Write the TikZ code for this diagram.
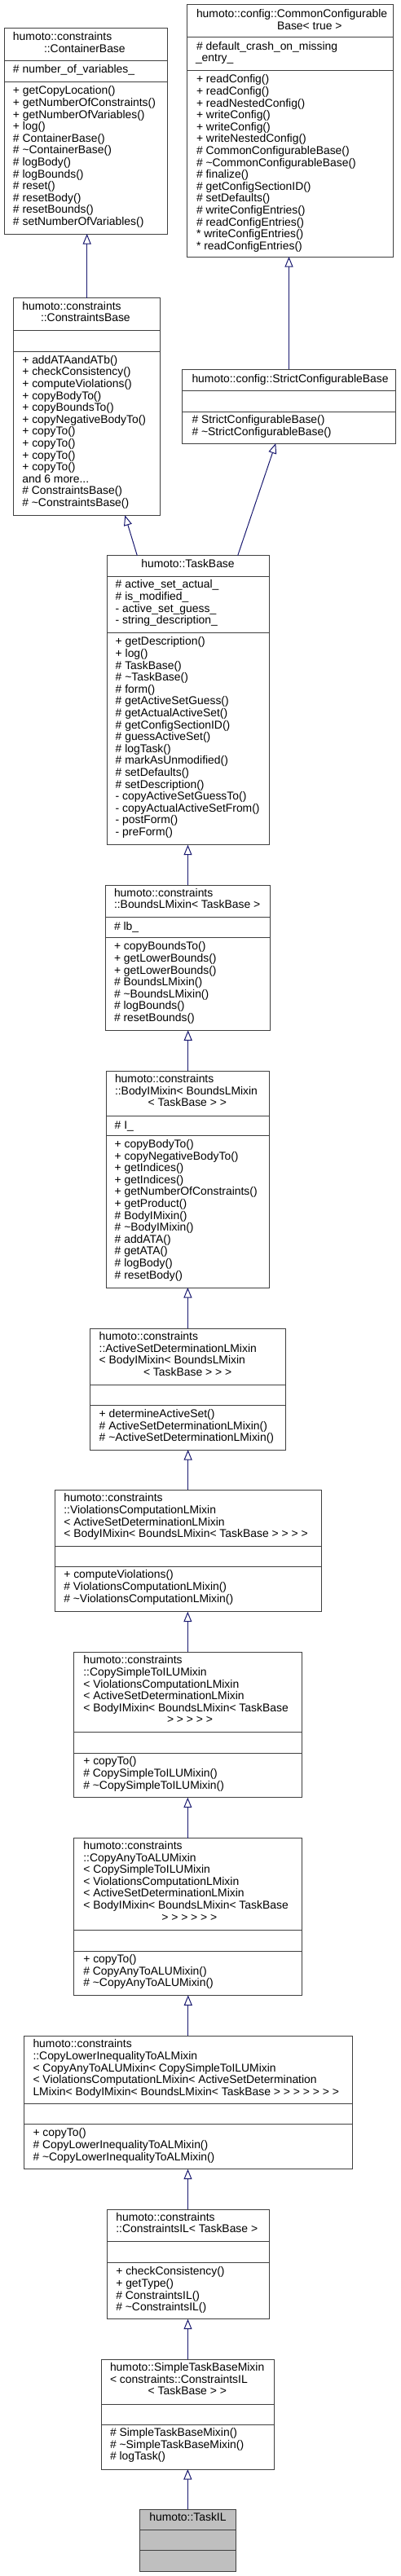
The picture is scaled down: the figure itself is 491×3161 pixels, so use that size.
\documentclass[tikz,border=0pt]{standalone}
\usepackage{fontspec}
\setmainfont{Liberation Sans}
\usetikzlibrary{arrows.meta,calc}
\definecolor{edgeblue}{HTML}{191970}
\definecolor{boxgray}{HTML}{404040}
\definecolor{taskgray}{HTML}{BFBFBF}
\tikzset{
 box/.style={draw=boxgray, line width=1pt, inner sep=0pt, outer sep=0pt, rectangle},
 sepline/.style={draw=boxgray, line width=1pt},
 txt/.style={anchor=west, inner sep=0pt, outer sep=0pt, text height=10pt, text depth=3pt, font=\fontsize{13.9}{14.6}\selectfont},
 inh/.style={draw=edgeblue, line width=1pt, -{Triangle[length=12.5pt, width=10pt, fill=white]}}
}
\newcommand\mydots{...}
\newcommand\umlbox[6][white]{\node[box, fill=#1, minimum width={(#5)-(#3)}, minimum height={(#6)-(#4)}] (#2) at ({((#3)+(#5))/2},{((#4)+(#6))/2}) {};}
\newcommand\sepat[3]{\draw[sepline] (#1,#3) -- (#2,#3);}
\newcommand\tlines[4]{\foreach \myitem [count=\myidx from 0] in {#4} {\node[txt] (#1-\myidx) at (#2,{#3+\myidx*14.6}) {\myitem};}}
\begin{document}
\begin{tikzpicture}[x=1pt,y=-1pt]
\useasboundingbox[fill=white] (0,0) rectangle (491,3161);

% ContainerBase
\umlbox{CB}{5}{35}{205}{287}
\sepat{5}{205}{75}\sepat{5}{205}{100}
\tlines{cbt}{16}{46}{humoto::constraints}
\tlines{cbu}{54}{60.6}{::ContainerBase}
\tlines{cba}{16}{86}{\# number\_of\_variables\_}
\tlines{cbm}{16}{112.3}{+ getCopyLocation(), + getNumberOfConstraints(), + getNumberOfVariables(), + log(), \# ContainerBase(), \# \textasciitilde ContainerBase(), \# logBody(), \# logBounds(), \# reset(), \# resetBody(), \# resetBounds(), \# setNumberOfVariables()}

% CommonConfigurableBase
\umlbox{CCB}{229}{6}{482}{315}
\sepat{229}{482}{46}\sepat{229}{482}{86}
\tlines{ccbt}{241}{18.3}{humoto::config::CommonConfigurable}
\tlines{ccbu}{340}{32.9}{Base< true >}
\tlines{ccba}{241}{57.7}{\# default\_crash\_on\_missing}
\tlines{ccbb}{240}{72.3}{\_entry\_}
\tlines{ccbm}{241}{98.3}{+ readConfig(), + readConfig(), + readNestedConfig(), + writeConfig(), + writeConfig(), + writeNestedConfig(), \# CommonConfigurableBase(), \# \textasciitilde CommonConfigurableBase(), \# finalize(), \# getConfigSectionID(), \# setDefaults(), \# writeConfigEntries(), \# readConfigEntries(), * writeConfigEntries(), * readConfigEntries()}

% ConstraintsBase
\umlbox{CSB}{16.7}{365.7}{196.7}{632.3}
\sepat{16.7}{196.7}{405.7}\sepat{16.7}{196.7}{431}
\tlines{csbt}{27.3}{376.7}{humoto::constraints}
\tlines{csbu}{50}{391.3}{::ConstraintsBase}
\tlines{csbm}{27.3}{442.7}{+ addATAandATb(), + checkConsistency(), + computeViolations(), + copyBodyTo(), + copyBoundsTo(), + copyNegativeBodyTo(), + copyTo(), + copyTo(), + copyTo(), + copyTo(), and 6 more\mydots, \# ConstraintsBase(), \# \textasciitilde ConstraintsBase()}

% StrictConfigurableBase
\umlbox{SCB}{223.3}{453.3}{485.7}{544}
\sepat{223.3}{485.7}{479}\sepat{223.3}{485.7}{505}
\tlines{scbt}{235.5}{466}{humoto::config::StrictConfigurableBase}
\tlines{scbm}{235.5}{516}{\# StrictConfigurableBase(), \# \textasciitilde StrictConfigurableBase()}

% TaskBase
\umlbox{TB}{131}{681.7}{330}{1036.7}
\sepat{131}{330}{707.3}\sepat{131}{330}{776.7}
\tlines{tbt}{173.3}{693.3}{humoto::TaskBase}
\tlines{tba}{141.7}{718.3}{\# active\_set\_actual\_, \# is\_modified\_, - active\_set\_guess\_, - string\_description\_}
\tlines{tbm}{141.7}{788.3}{+ getDescription(), + log(), \# TaskBase(), \# \textasciitilde TaskBase(), \# form(), \# getActiveSetGuess(), \# getActualActiveSet(), \# getConfigSectionID(), \# guessActiveSet(), \# logTask(), \# markAsUnmodified(), \# setDefaults(), \# setDescription(), - copyActiveSetGuessTo(), - copyActualActiveSetFrom(), - postForm(), - preForm()}

% BoundsLMixin
\umlbox{BLM}{129.3}{1086}{331.7}{1264.3}
\sepat{129.3}{331.7}{1125.7}\sepat{129.3}{331.7}{1150.7}
\tlines{blmt}{140}{1096.7}{humoto::constraints, ::BoundsLMixin< TaskBase >}
\tlines{blma}{140}{1138.3}{\# lb\_}
\tlines{blmm}{140}{1162.3}{+ copyBoundsTo(), + getLowerBounds(), + getLowerBounds(), \# BoundsLMixin(), \# \textasciitilde BoundsLMixin(), \# logBounds(), \# resetBounds()}

% BodyIMixin
\umlbox{BIM}{130.7}{1314}{330.7}{1580}
\sepat{130.7}{330.7}{1369}\sepat{130.7}{330.7}{1393.3}
\tlines{bimt}{141}{1325}{humoto::constraints, ::BodyIMixin< BoundsLMixin}
\tlines{bimu}{181.7}{1354.2}{< TaskBase > >}
\tlines{bima}{140.7}{1381.7}{\# I\_}
\tlines{bimm}{140.7}{1405}{+ copyBodyTo(), + copyNegativeBodyTo(), + getIndices(), + getIndices(), + getNumberOfConstraints(), + getProduct(), \# BodyIMixin(), \# \textasciitilde BodyIMixin(), \# addATA(), \# getATA(), \# logBody(), \# resetBody()}

% ActiveSetDeterminationLMixin
\umlbox{ASD}{110.5}{1630}{350.3}{1779}
\sepat{110.5}{350.3}{1699}\sepat{110.5}{350.3}{1724.3}
\tlines{asdt}{121.7}{1641}{humoto::constraints, ::ActiveSetDeterminationLMixin, < BodyIMixin< BoundsLMixin}
\tlines{asdu}{176}{1684.8}{< TaskBase > > >}
\tlines{asdm}{121.7}{1736}{+ determineActiveSet(), \# ActiveSetDeterminationLMixin(), \# \textasciitilde ActiveSetDeterminationLMixin()}

% ViolationsComputationLMixin
\umlbox{VCL}{67.3}{1828.3}{394}{1977.7}
\sepat{67.3}{394}{1897.7}\sepat{67.3}{394}{1922.7}
\tlines{vclt}{78.3}{1839.3}{humoto::constraints, ::ViolationsComputationLMixin, < ActiveSetDeterminationLMixin, < BodyIMixin< BoundsLMixin< TaskBase > > > >}
\tlines{vclm}{78.3}{1933.3}{+ computeViolations(), \# ViolationsComputationLMixin(), \# \textasciitilde ViolationsComputationLMixin()}

% CopySimpleToILUMixin
\umlbox{CST}{90.7}{2027.3}{370}{2205.7}
\sepat{90.7}{370}{2125.5}\sepat{90.7}{370}{2151}
\tlines{cstt}{102.3}{2038.3}{humoto::constraints, ::CopySimpleToILUMixin, < ViolationsComputationLMixin, < ActiveSetDeterminationLMixin, < BodyIMixin< BoundsLMixin< TaskBase}
\tlines{cstu}{205}{2111.3}{> > > > >}
\tlines{cstm}{102.3}{2162.3}{+ copyTo(), \# CopySimpleToILUMixin(), \# \textasciitilde CopySimpleToILUMixin()}

% CopyAnyToALUMixin
\umlbox{CAA}{90.7}{2255.7}{370}{2448.3}
\sepat{90.7}{370}{2368.5}\sepat{90.7}{370}{2394}
\tlines{caat}{102.3}{2266}{humoto::constraints, ::CopyAnyToALUMixin, < CopySimpleToILUMixin, < ViolationsComputationLMixin, < ActiveSetDeterminationLMixin, < BodyIMixin< BoundsLMixin< TaskBase}
\tlines{caau}{198.3}{2353.6}{> > > > > >}
\tlines{caam}{102.3}{2405}{+ copyTo(), \# CopyAnyToALUMixin(), \# \textasciitilde CopyAnyToALUMixin()}

% CopyLowerInequalityToALMixin
\umlbox{CLI}{29.3}{2498.3}{432.3}{2661.7}
\sepat{29.3}{432.3}{2581.5}\sepat{29.3}{432.3}{2606.7}
\tlines{clit}{40.5}{2509.3}{humoto::constraints, ::CopyLowerInequalityToALMixin, < CopyAnyToALUMixin< CopySimpleToILUMixin, < ViolationsComputationLMixin< ActiveSetDetermination, LMixin< BodyIMixin< BoundsLMixin< TaskBase > > > > > > >}
\tlines{clim}{40.5}{2618.3}{+ copyTo(), \# CopyLowerInequalityToALMixin(), \# \textasciitilde CopyLowerInequalityToALMixin()}

% ConstraintsIL
\umlbox{CIL}{131}{2711}{330}{2845.7}
\sepat{131}{330}{2750.7}\sepat{131}{330}{2776.7}
\tlines{cilt}{142.3}{2721.7}{humoto::constraints, ::ConstraintsIL< TaskBase >}
\tlines{cilm}{142.3}{2788.3}{+ checkConsistency(), + getType(), \# ConstraintsIL(), \# \textasciitilde ConstraintsIL()}

% SimpleTaskBaseMixin
\umlbox{STB}{124.3}{2895}{336.7}{3030}
\sepat{124.3}{336.7}{2950}\sepat{124.3}{336.7}{2975.3}
\tlines{stbt}{135}{2906}{humoto::SimpleTaskBaseMixin, < constraints::ConstraintsIL}
\tlines{stbu}{181.7}{2935.2}{< TaskBase > >}
\tlines{stbm}{135}{2986}{\# SimpleTaskBaseMixin(), \# \textasciitilde SimpleTaskBaseMixin(), \# logTask()}

% TaskIL
\umlbox[taskgray]{TIL}{171.7}{3079.3}{289}{3155}
\sepat{171.7}{289}{3104}\sepat{171.7}{289}{3129.3}
\tlines{tilt}{183.3}{3090}{humoto::TaskIL}

% inheritance connectors (child -> parent)
\draw[inh] (CSB.north) -- (CSB.north |- CB.south);
\draw[inh] (SCB.north) -- (SCB.north |- CCB.south);
\draw[inh] ([xshift=-62.2pt]TB.north) -- ([xshift=46.6pt]CSB.south);
\draw[inh] ([xshift=61.2pt]TB.north) -- ([xshift=-16.2pt]SCB.south);
\draw[inh] (BLM.north) -- (BLM.north |- TB.south);
\draw[inh] (BIM.north) -- (BIM.north |- BLM.south);
\draw[inh] (ASD.north) -- (ASD.north |- BIM.south);
\draw[inh] (VCL.north) -- (VCL.north |- ASD.south);
\draw[inh] (CST.north) -- (CST.north |- VCL.south);
\draw[inh] (CAA.north) -- (CAA.north |- CST.south);
\draw[inh] (CLI.north) -- (CLI.north |- CAA.south);
\draw[inh] (CIL.north) -- (CIL.north |- CLI.south);
\draw[inh] (STB.north) -- (STB.north |- CIL.south);
\draw[inh] (TIL.north) -- (TIL.north |- STB.south);
\end{tikzpicture}
\end{document}
